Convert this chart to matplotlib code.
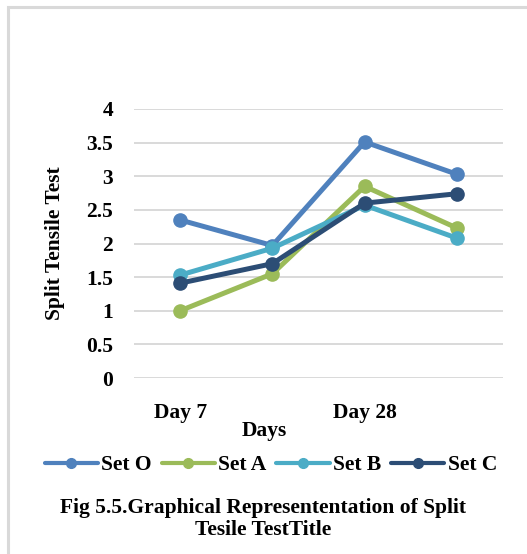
import matplotlib
matplotlib.use("Agg")
import matplotlib.pyplot as plt
from matplotlib.patches import Rectangle

categories = ["Day 7", "", "Day 28", ""]
series_names = ["Set O", "Set A", "Set B", "Set C"]
set_o = [2.35, 1.97, 3.51, 3.03]
set_a = [1.00, 1.55, 2.85, 2.23]
set_b = [1.53, 1.93, 2.57, 2.08]
set_c = [1.41, 1.70, 2.60, 2.74]
yticks = [0, 0.5, 1, 1.5, 2, 2.5, 3, 3.5, 4]
ytick_labels = ["0", "0.5", "1", "1.5", "2", "2.5", "3", "3.5", "4"]

colors = ["#4F81BD", "#9BBB59", "#4BACC6", "#2C4D75"]

plt.rcParams['font.family'] = ['Liberation Serif', 'DejaVu Serif']
plt.rcParams['font.weight'] = 'bold'
FS = 15.5

W, H = 527, 554
fig = plt.figure(figsize=(W / 100, H / 100), dpi=100)

# outer chart border
fig.patches.append(Rectangle((7.5 / W, -0.1), 1.2, 1 - 7.5 / H + 0.1, transform=fig.transFigure,
                             fill=False, edgecolor="#D9D9D9", linewidth=2.2))

ax = fig.add_axes([134 / W, 1 - 378 / H, (503 - 134) / W, (378 - 109) / H])
x = list(range(len(categories)))
for vals, name, c in zip([set_o, set_a, set_b, set_c], series_names, colors):
    ax.plot(x, vals, color=c, linewidth=3.6, marker="o", markersize=9.5, label=name,
            solid_capstyle="round", zorder=3)

ax.set_xlim(-0.5, 3.5)
ax.set_ylim(0, 4)
ax.set_yticks(yticks)
ax.set_yticklabels(ytick_labels)
ax.set_xticks(x)
ax.set_xticklabels(categories)
ax.tick_params(axis="both", length=0, labelsize=FS)
ax.tick_params(axis="y", pad=15)
ax.tick_params(axis="x", pad=18)
for lab in ax.get_xticklabels() + ax.get_yticklabels():
    lab.set_fontweight("bold")
ax.grid(axis="y", color="#D9D9D9", linewidth=1.4, zorder=0)
for s in ax.spines.values():
    s.set_visible(False)

fig.text(55 / W, 1 - 243 / H, "Split Tensile Test", rotation=90, ha="center", va="center",
         fontsize=FS, fontweight="bold")
fig.text(264 / W, 1 - 431 / H, "Days", ha="center", va="center", fontsize=FS, fontweight="bold")

leg = fig.legend(loc="center", bbox_to_anchor=(271 / W, 1 - 465 / H), ncol=4, frameon=False,
                 handlelength=2.47, handletextpad=0.17, columnspacing=0.45,
                 borderpad=0, borderaxespad=0,
                 prop={"weight": "bold", "size": FS})
for h in leg.legend_handles:
    h.set_markersize(7)
    h.set_linewidth(3)

fig.text(263 / W, 1 - 519 / H, "Fig 5.5.Graphical Represententation of Split\nTesile TestTitle",
         ha="center", va="center", fontsize=FS, fontweight="bold", linespacing=1.1)

fig.savefig("out.png", dpi=100)
